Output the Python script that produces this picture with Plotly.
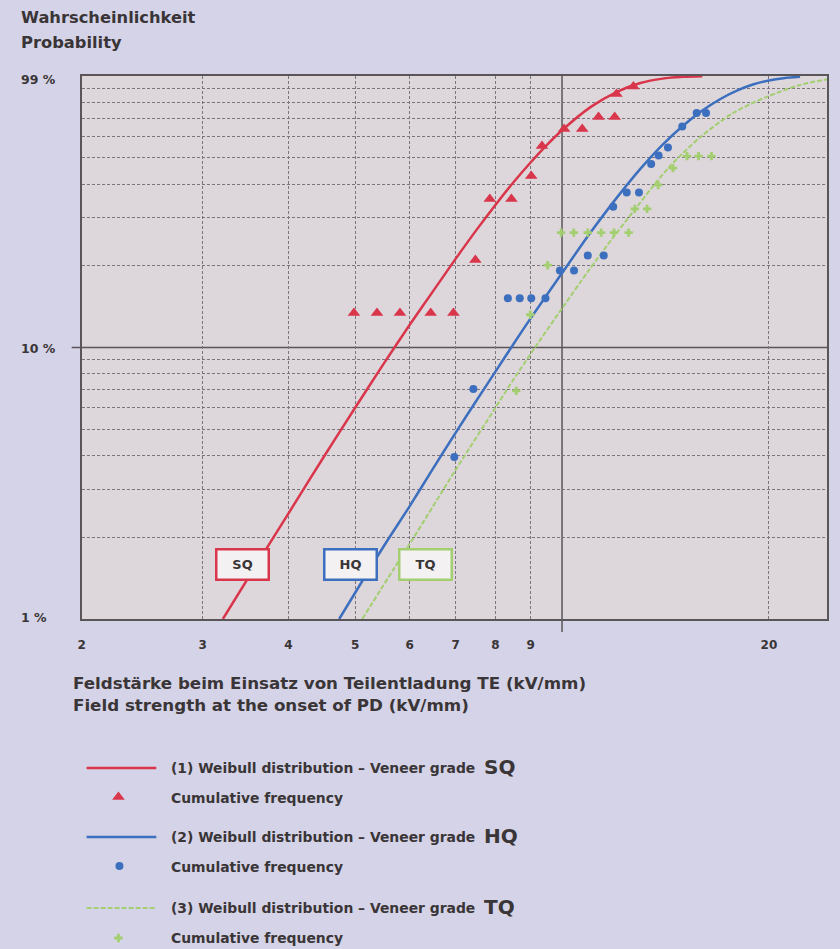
import numpy as np
import plotly.graph_objects as go

W, H = 840, 949

# ---------------- data ----------------
# Weibull fit lines: field strength (kV/mm) vs cumulative probability (%)
sq_curve_x = [3.21, 3.6, 4.0, 4.5, 5.0, 5.5, 6.0, 6.5, 7.0, 7.5, 8.0, 8.5, 9.0, 9.5, 10.0, 11.0, 12.0, 13.0, 14.0, 15.0, 16.0]
sq_curve_y = [1.0, 1.6, 2.45, 3.95, 6.0, 8.7, 12.1, 16.2, 21.2, 27.0, 33.5, 40.6, 48.0, 55.6, 63.1, 76.8, 87.3, 94.2, 97.8, 99.3, 99.8]

hq_curve_x = [4.74, 5.5, 6.0, 6.5, 7.0, 7.5, 8.0, 8.5, 9.0, 9.5, 10.0, 11.0, 12.0, 13.0, 14.0, 15.0, 16.0, 17.0, 18.0, 19.0, 20.0, 21.0, 22.2]
hq_curve_y = [1.0, 1.85, 2.6, 3.6, 4.85, 6.35, 8.15, 10.3, 12.8, 15.6, 18.8, 26.5, 35.5, 45.5, 55.8, 65.6, 74.6, 82.3, 88.5, 93.2, 96.3, 98.2, 99.3]

tq_curve_x = [5.12, 5.71, 6.05, 6.98, 8.0, 8.52, 9.11, 10.07, 10.9, 11.89, 12.46, 14.24, 15.9, 17.74, 19.9, 22.2, 24.3]
tq_curve_y = [1.0, 1.55, 1.95, 3.5, 6.0, 7.7, 9.9, 14.3, 19.0, 25.6, 29.8, 45.5, 59.6, 73.1, 84.0, 92.7, 97.2]

# Cumulative frequency points
sq_pts_x = [4.98, 5.38, 5.81, 6.44, 6.95, 7.48, 7.85, 8.44, 9.02, 9.35, 10.07, 10.7, 11.3, 11.93, 12.0, 12.7]
sq_pts_y = [13.4, 13.4, 13.4, 13.4, 13.4, 21.0, 35.2, 35.2, 42.8, 55.2, 63.8, 63.8, 70.6, 70.6, 85.9, 91.5]

hq_pts_x = [6.97, 7.43, 8.34, 8.68, 9.02, 9.46, 9.93, 10.41, 10.9, 11.5, 11.87, 12.42, 12.94, 13.48, 13.82, 14.26, 14.96, 15.7, 16.2]
hq_pts_y = [3.95, 7.03, 15.2, 15.2, 15.2, 15.2, 19.2, 19.2, 21.8, 21.8, 33.0, 37.2, 37.2, 47.4, 51.0, 54.5, 65.2, 73.1, 73.1]

tq_pts_x = [8.58, 8.99, 9.53, 9.97, 10.4, 10.9, 11.4, 11.9, 12.5, 12.76, 13.3, 13.8, 14.5, 15.2, 15.8, 16.5]
tq_pts_y = [6.92, 13.2, 20.1, 26.5, 26.5, 26.5, 26.5, 26.5, 26.5, 32.4, 32.4, 39.7, 45.8, 50.7, 50.7, 50.7]

x_tick_vals = [2, 3, 4, 5, 6, 7, 8, 9, 20]
x_tick_text = ["2", "3", "4", "5", "6", "7", "8", "9", "20"]
y_grid_vals = [2, 3, 4, 5, 6, 7, 8, 9, 20, 30, 40, 50, 60, 70, 80, 90]
y_labels = ["99 %", "10 %", "1 %"]

grades = ["SQ", "HQ", "TQ"]
legend_line_text = ["(1) Weibull distribution – Veneer grade",
                    "(2) Weibull distribution – Veneer grade",
                    "(3) Weibull distribution – Veneer grade"]
legend_pts_text = "Cumulative frequency"

# ---------------- style ----------------
PAPER = "#d4d3e7"
PLOT = "#ddd6da"
RED = "#d9364c"
BLUE = "#3d6fbf"
GREEN = "#a3cf70"
TXT = "#3a3536"
GRID = "#7a757c"
DARK = "#5a5559"
FONT = "DejaVu Sans"

fig = go.Figure()

# curves
fig.add_trace(go.Scatter(x=tq_curve_x, y=tq_curve_y, mode="lines",
                         line=dict(color=GREEN, width=2, dash="5px,2px", shape="spline", smoothing=0.8),
                         xaxis="x", yaxis="y"))
fig.add_trace(go.Scatter(x=hq_curve_x, y=hq_curve_y, mode="lines",
                         line=dict(color=BLUE, width=2.5, shape="spline", smoothing=0.8),
                         xaxis="x", yaxis="y"))
fig.add_trace(go.Scatter(x=sq_curve_x, y=sq_curve_y, mode="lines",
                         line=dict(color=RED, width=2.5, shape="spline", smoothing=0.8),
                         xaxis="x", yaxis="y"))
# points
fig.add_trace(go.Scatter(x=tq_pts_x, y=tq_pts_y, mode="markers",
                         marker=dict(symbol="cross", size=7, color=GREEN),
                         xaxis="x", yaxis="y"))
fig.add_trace(go.Scatter(x=hq_pts_x, y=hq_pts_y, mode="markers",
                         marker=dict(symbol="circle", size=8, color=BLUE),
                         xaxis="x", yaxis="y"))
fig.add_trace(go.Scatter(x=sq_pts_x, y=sq_pts_y, mode="markers",
                         marker=dict(symbol="triangle-up", size=11, color=RED),
                         xaxis="x", yaxis="y"))

# legend symbols on pixel overlay axes
fig.add_trace(go.Scatter(x=[115], y=[797], mode="markers",
                         marker=dict(symbol="triangle-up", size=11, color=RED), xaxis="x2", yaxis="y2"))
fig.add_trace(go.Scatter(x=[116], y=[866], mode="markers",
                         marker=dict(symbol="circle", size=8, color=BLUE), xaxis="x2", yaxis="y2"))
fig.add_trace(go.Scatter(x=[115], y=[938], mode="markers",
                         marker=dict(symbol="cross", size=7, color=GREEN), xaxis="x2", yaxis="y2"))

shapes = []
# plot area background
shapes.append(dict(type="rect", xref="x domain", yref="y domain", x0=0, x1=1, y0=0, y1=1,
                   fillcolor=PLOT, line=dict(width=0), layer="below"))
# solid reference lines at 10 kV/mm and 10 %
shapes.append(dict(type="line", xref="x", yref="paper", x0=10, x1=10,
                   y0=1 - 632 / H, y1=1 - 76 / H, line=dict(color=DARK, width=1.5), layer="between"))
shapes.append(dict(type="line", xref="paper", yref="y", x0=68 / W, x1=827 / W,
                   y0=10, y1=10, line=dict(color=DARK, width=1.5), layer="between"))
# legend lines
leg_colors = [RED, BLUE, GREEN]
leg_line_y = [768, 837, 908]
for c, yy, d in zip(leg_colors, leg_line_y, ["solid", "solid", "5px,2px"]):
    shapes.append(dict(type="line", xref="x2", yref="y2", x0=83, x1=153, y0=yy, y1=yy,
                       line=dict(color=c, width=2.5 if d == "solid" else 2, dash=d)))

ann = []
def txt(x, y, s, size, anchor="left", color=TXT):
    ann.append(dict(xref="x2", yref="y2", x=x, y=y, text=s, showarrow=False,
                    xanchor=anchor, yanchor="middle",
                    font=dict(family=FONT, size=size, color=color, weight="bold")))

txt(15, 17, "Wahrscheinlichkeit", 16.3)
txt(15, 42, "Probability", 16.3)
for lab, yy in zip(y_labels, [79, 348, 617]):
    txt(15, yy, lab, 12.5)
txt(67, 683, "Feldstärke beim Einsatz von Teilentladung TE (kV/mm)", 16.7)
txt(67, 705, "Field strength at the onset of PD (kV/mm)", 16.7)

for i in range(3):
    txt(166, leg_line_y[i], legend_line_text[i], 13.9)
    txt(480, leg_line_y[i] - 1, grades[i], 20)
    txt(166, [798, 867, 938][i], legend_pts_text, 13.9)

# grade boxes
for g, cx, c in zip(grades, [240, 348.5, 424], leg_colors):
    ann.append(dict(xref="x2", yref="y2", x=cx, y=564, text=g, showarrow=False,
                    xanchor="center", yanchor="middle", width=48, height=26,
                    bgcolor="#f3f1f2", bordercolor=c, borderwidth=2.5, borderpad=1,
                    font=dict(family=FONT, size=13, color=TXT, weight="bold")))

fig.update_layout(
    width=W, height=H,
    margin=dict(l=0, r=0, t=0, b=0, pad=0),
    paper_bgcolor=PAPER, plot_bgcolor="rgba(0,0,0,0)",
    showlegend=False,
    xaxis=dict(type="log", domain=[78 / W, 827 / W], range=[np.log10(2), np.log10(24.3)],
               tickmode="array", tickvals=x_tick_vals, ticktext=x_tick_text,
               showgrid=True, gridcolor=GRID, gridwidth=1, griddash="3px,2px",
               showline=True, mirror=True, linecolor=DARK, linewidth=1.5,
               ticks="outside", ticklen=14, tickcolor="rgba(0,0,0,0)",
               tickfont=dict(family=FONT, size=12, color=TXT, weight="bold"),
               zeroline=False, anchor="y", fixedrange=True),
    yaxis=dict(type="log", domain=[1 - 619 / H, 1 - 76 / H], range=[0, 2],
               tickmode="array", tickvals=y_grid_vals, showticklabels=False, ticks="",
               showgrid=True, gridcolor=GRID, gridwidth=1, griddash="3px,2px",
               showline=True, mirror=True, linecolor=DARK, linewidth=1.5,
               zeroline=False, anchor="x", fixedrange=True),
    xaxis2=dict(domain=[0, 1], range=[0, W], visible=False, anchor="y2", fixedrange=True),
    yaxis2=dict(domain=[0, 1], range=[H, 0], visible=False, anchor="x2", fixedrange=True),
    shapes=shapes, annotations=ann,
)

fig.write_html("out.html", config={"displayModeBar": False},
               post_script="document.body.style.margin='0';document.body.style.overflow='hidden';")
